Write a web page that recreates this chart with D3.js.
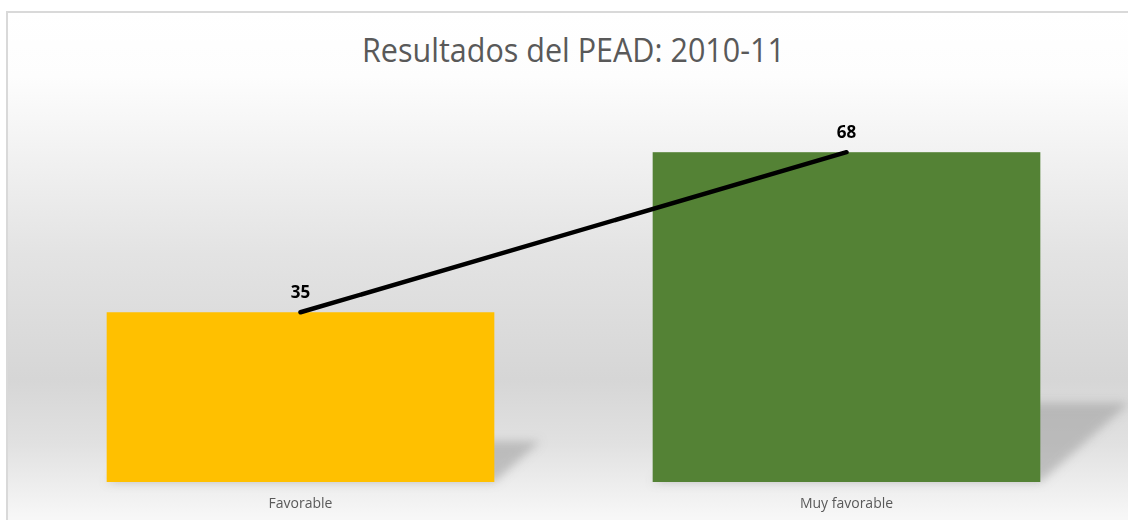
<!DOCTYPE html>
<html>
<head>
<meta charset="utf-8">
<script src="https://cdn.jsdelivr.net/npm/d3@7"></script>
<style>
  html, body { margin: 0; padding: 0; background: #fff; }
  svg { display: block; }
</style>
</head>
<body>
<div id="chart"></div>
<script>
const categories = ["Favorable", "Muy favorable"];
const values = [35, 68];
const barColors = ["#ffc000", "#548235"];
const title = "Resultados del PEAD: 2010-11";

const W = 1128;
const H = 520;
const font = '"Open Sans", "DejaVu Sans", sans-serif';

const svg = d3.select("#chart").append("svg")
  .attr("width", W)
  .attr("height", H)
  .attr("viewBox", `0 0 ${W} ${H}`);

const defs = svg.append("defs");

const bg = defs.append("linearGradient")
  .attr("id", "bg")
  .attr("x1", 0).attr("y1", 0).attr("x2", 0).attr("y2", 1);
[
  [0, "#ffffff"],
  [0.12, "#fdfdfd"],
  [0.45, "#e3e3e3"],
  [0.68, "#d6d6d6"],
  [0.8, "#e1e1e1"],
  [0.93, "#f6f6f6"],
  [1, "#ffffff"],
].forEach(([o, c]) => bg.append("stop").attr("offset", o).attr("stop-color", c));

defs.append("filter")
  .attr("id", "blur")
  .attr("x", "-20%").attr("y", "-20%").attr("width", "140%").attr("height", "140%")
  .append("feGaussianBlur")
  .attr("stdDeviation", 5);

// chart area frame (runs off the right and bottom edges)
svg.append("rect")
  .attr("x", 7)
  .attr("y", 12)
  .attr("width", W + 20)
  .attr("height", H + 20)
  .attr("fill", "url(#bg)")
  .attr("stroke", "#d9d9d9")
  .attr("stroke-width", 2);

const x = d3.scaleBand()
  .domain(categories)
  .range([27.5, 1119.5])
  .paddingInner(0.29)
  .paddingOuter(0.145);

const y = d3.scaleLinear()
  .domain([0, 80])
  .range([482, 94]);

const base = y(0);

// perspective shadows behind the bars
const skew = 0.27;
const squash = 0.24;
svg.append("g")
  .attr("filter", "url(#blur)")
  .selectAll("path")
  .data(categories)
  .join("path")
  .attr("fill", "#9a9a9a")
  .attr("opacity", 0.55)
  .attr("d", (d, i) => {
    const h = base - y(values[i]);
    const x0 = x(d);
    const x1 = x0 + x.bandwidth();
    return d3.line()([
      [x0, base],
      [x1, base],
      [x1 + skew * h, base - squash * h],
      [x0 + skew * h, base - squash * h],
    ]) + "Z";
  });

svg.append("g")
  .selectAll("rect")
  .data(categories)
  .join("rect")
  .attr("x", (d) => x(d))
  .attr("y", (d, i) => y(values[i]))
  .attr("width", x.bandwidth())
  .attr("height", (d, i) => base - y(values[i]))
  .attr("fill", (d, i) => barColors[i]);

const pts = categories.map((d, i) => [x(d) + x.bandwidth() / 2, y(values[i])]);

svg.append("path")
  .attr("d", d3.line()(pts))
  .attr("fill", "none")
  .attr("stroke", "#000")
  .attr("stroke-width", 4.5)
  .attr("stroke-linecap", "round");

svg.append("g")
  .selectAll("text")
  .data(categories)
  .join("text")
  .attr("x", (d) => x(d) + x.bandwidth() / 2)
  .attr("y", (d, i) => y(values[i]) - 14)
  .attr("text-anchor", "middle")
  .attr("font-family", font)
  .attr("font-weight", "bold")
  .attr("font-size", 17)
  .attr("fill", "#000")
  .text((d, i) => values[i]);

const xAxis = svg.append("g")
  .attr("transform", `translate(0,${base})`)
  .call(d3.axisBottom(x).tickSize(0).tickPadding(0));
xAxis.select(".domain").remove();
xAxis.selectAll("text")
  .attr("dy", null)
  .attr("y", 26)
  .attr("font-family", font)
  .attr("font-size", 14)
  .attr("fill", "#595959");

svg.append("text")
  .attr("x", 573.5)
  .attr("y", 62)
  .attr("text-anchor", "middle")
  .attr("font-family", font)
  .attr("font-size", 33)
  .attr("fill", "#595959")
  .attr("textLength", 423)
  .attr("lengthAdjust", "spacingAndGlyphs")
  .text(title);
</script>
</body>
</html>
